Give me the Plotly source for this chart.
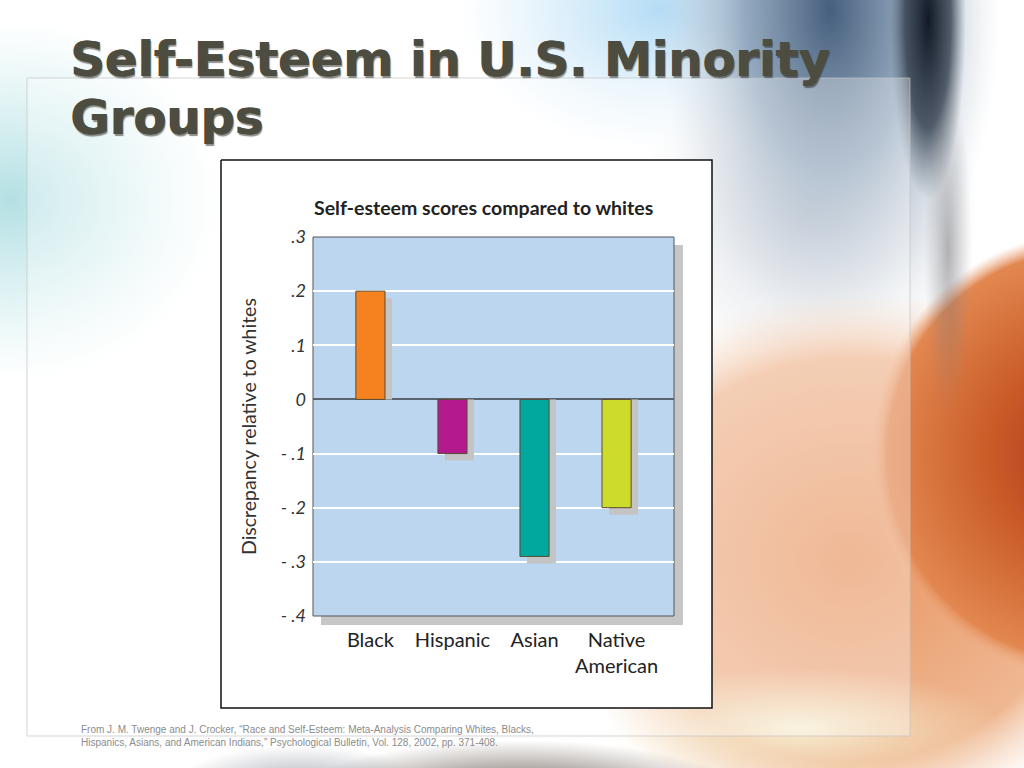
import numpy as np
import plotly.graph_objects as go

# ---- data ----
categories = ["Black", "Hispanic", "Asian", "Native<br>American"]
discrepancy = [0.20, -0.10, -0.29, -0.20]
bar_colors = ["#f5821f", "#b31a8e", "#00a89e", "#cddc2a"]
tick_values = [-0.4, -0.3, -0.2, -0.1, 0, 0.1, 0.2, 0.3]
tick_labels = ["- .4", "- .3", "- .2", "- .1", "0", ".1", ".2", ".3"]

W, H = 1024, 768
def px(x): return x / W
def py(y): return 1 - y / H

shadow_drop = 0.013
shadow_vals = [v - shadow_drop for v in discrepancy]
bar_w = 0.355
shadow_shift = 0.085

fig = go.Figure()

# ---- decorative slide background (page-pixel subplot xy) ----
def ellipse(cx, cy, rx, ry, stops):
    t = np.linspace(0, 2 * np.pi, 120)
    fig.add_trace(go.Scatter(
        x=cx + rx * np.cos(t), y=cy + ry * np.sin(t), mode="lines",
        line=dict(width=0), fill="toself",
        fillgradient=dict(type="radial", colorscale=stops),
        hoverinfo="skip", showlegend=False, xaxis="x", yaxis="y"))

def rect(x0, y0, x1, y1, fill, line_color=None, lw=0):
    fig.add_trace(go.Scatter(
        x=[x0, x1, x1, x0, x0], y=[y0, y0, y1, y1, y0], mode="lines",
        line=dict(width=lw, color=line_color or "rgba(0,0,0,0)"),
        fill="toself", fillcolor=fill,
        hoverinfo="skip", showlegend=False, xaxis="x", yaxis="y"))

# left cyan glow
ellipse(10, 200, 210, 180, [[0, "rgba(165,218,222,0.85)"], [1, "rgba(190,230,232,0)"]])
# top light blue
ellipse(660, 10, 200, 140, [[0, "rgba(180,220,245,1)"], [1, "rgba(200,230,248,0)"]])
# gray-blue wash below the title (right)
ellipse(810, 210, 170, 170, [[0, "rgba(170,180,195,0.85)"], [1, "rgba(190,198,210,0)"]])
# top-right steel blue-gray
ellipse(830, 10, 170, 320, [[0, "rgba(70,95,125,1)"], [0.5, "rgba(140,162,185,0.9)"],
                            [1, "rgba(200,210,220,0)"]])
# peach glow
ellipse(850, 560, 300, 270, [[0, "rgba(232,150,100,1)"], [0.75, "rgba(238,180,140,0.95)"],
                             [1, "rgba(245,215,190,0)"]])
# cream lower right
ellipse(800, 728, 200, 60, [[0, "rgba(246,238,210,1)"], [1, "rgba(245,235,205,0)"]])
# orange disc
ellipse(1085, 455, 215, 222, [[0, "rgba(172,52,30,1)"], [0.45, "rgba(202,92,40,1)"],
                              [0.92, "rgba(226,135,80,1)"], [1, "rgba(238,170,130,0)"]])
# dark band at top right
ellipse(928, 20, 38, 180, [[0, "rgba(18,25,38,1)"], [0.6, "rgba(50,60,75,0.8)"],
                           [1, "rgba(90,100,110,0)"]])
ellipse(948, 250, 24, 170, [[0, "rgba(105,105,110,0.5)"], [1, "rgba(140,140,145,0)"]])
# bottom smudges
ellipse(520, 800, 230, 60, [[0, "rgba(70,55,45,0.95)"], [1, "rgba(90,75,65,0)"]])
ellipse(300, 790, 130, 45, [[0, "rgba(105,112,128,0.65)"], [1, "rgba(120,125,140,0)"]])

# translucent slide panel
rect(27, 78, 910, 736, "rgba(255,255,255,0.32)", "rgba(195,195,195,0.7)", 1)
# white chart box
rect(221, 160, 712, 708, "white", "#111111", 1.5)
# plot-area shadow
rect(321, 245, 683, 625, "#c6c6c6")
# plot area
rect(313, 237, 674, 616, "#bdd6f0", "#555555", 1)

# ---- the bar chart (subplot x2y2) ----
fig.add_trace(go.Bar(
    x=categories, y=shadow_vals, base=0, width=bar_w,
    offset=-bar_w / 2 + shadow_shift,
    marker=dict(color="#c4c4c4", line=dict(width=0)),
    hoverinfo="skip", showlegend=False, xaxis="x2", yaxis="y2"))
fig.add_trace(go.Bar(
    x=categories, y=discrepancy, width=bar_w, offset=-bar_w / 2,
    marker=dict(color=bar_colors, line=dict(color="#5b4a32", width=1)),
    showlegend=False, xaxis="x2", yaxis="y2"))

title_font = dict(family="DejaVu Sans", size=48, color="#4d4c40", weight="bold",
                  shadow="0.9px 0 0 #4d4c40, 1.5px 1.5px 1px rgba(30,30,20,0.5)")

fig.update_layout(
    width=W, height=H, margin=dict(l=0, r=0, t=0, b=0, pad=0, autoexpand=False),
    autosize=False,
    paper_bgcolor="white", plot_bgcolor="rgba(0,0,0,0)",
    barmode="overlay",
    xaxis=dict(domain=[0, 1], range=[0, W], visible=False, fixedrange=True, automargin=False),
    yaxis=dict(domain=[0, 1], range=[H, 0], visible=False, fixedrange=True, automargin=False),
    xaxis2=dict(domain=[px(313), px(674)], range=[-0.7, 3.7], anchor="y2",
                showgrid=False, showline=False, ticks="", automargin=False,
                tickfont=dict(family="Lato", size=20, color="#222222"),
                ticklabelstandoff=10),
    yaxis2=dict(domain=[py(616), py(237)], range=[-0.4, 0.3], anchor="x2",
                tickvals=tick_values, ticktext=tick_labels, automargin=False,
                showgrid=True, gridcolor="white", gridwidth=2,
                zeroline=True, zerolinecolor="#5a6470", zerolinewidth=1.5,
                showline=False, ticks="",
                tickfont=dict(family="Lato", size=18, color="#333333", style="italic"),
                ticklabelstandoff=6),
    annotations=[
        dict(text="Self-Esteem in U.S. Minority", xref="paper", yref="paper",
             x=px(68), y=py(59), xanchor="left", yanchor="middle", showarrow=False,
             font=title_font),
        dict(text="Groups", xref="paper", yref="paper",
             x=px(68), y=py(117), xanchor="left", yanchor="middle", showarrow=False,
             font=title_font),
        dict(text="Self-esteem scores compared to whites", xref="paper", yref="paper",
             x=px(483), y=py(207), xanchor="center", yanchor="middle", showarrow=False,
             font=dict(family="Lato", size=19.5, color="#222222", weight="bold")),
        dict(text="Discrepancy relative to whites", xref="paper", yref="paper",
             x=px(248), y=py(427), xanchor="center", yanchor="middle", textangle=-90,
             showarrow=False, font=dict(family="Lato", size=19.5, color="#333333")),
        dict(text="From J. M. Twenge and J. Crocker, “Race and Self-Esteem: Meta-Analysis Comparing Whites, Blacks,<br>"
                  "Hispanics, Asians, and American Indians,” Psychological Bulletin, Vol. 128, 2002, pp. 371-408.",
             xref="paper", yref="paper", x=px(79), y=py(722), xanchor="left", yanchor="top",
             align="left", showarrow=False,
             font=dict(family="Liberation Sans", size=10, color="#8c8c8c")),
    ],
)

fig.write_html("out.html", config={"displayModeBar": False, "responsive": False},
               post_script="document.body.style.margin='0';document.body.style.overflow='hidden';")
